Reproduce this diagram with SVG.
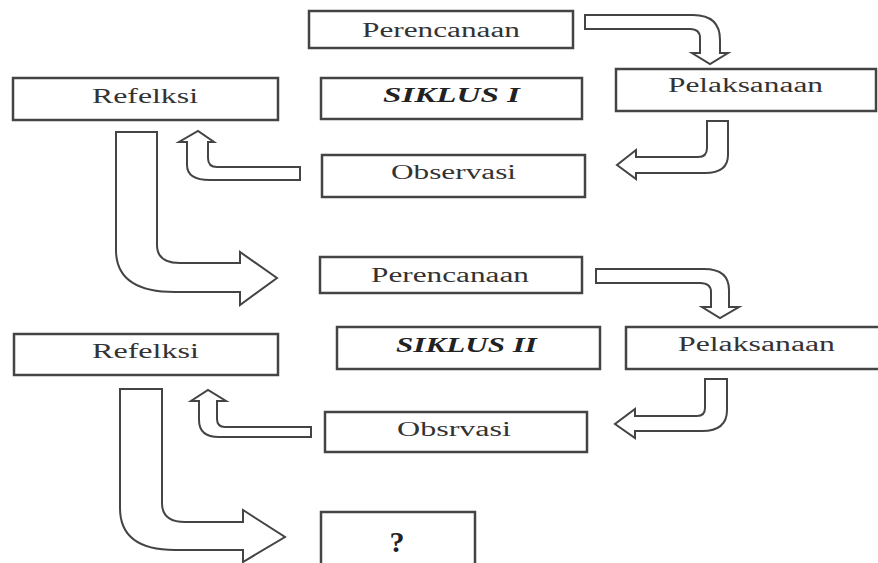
<svg xmlns="http://www.w3.org/2000/svg" width="878" height="563" viewBox="0 0 878 563">
<style>
.box{fill:#fff;stroke:#444;stroke-width:2.5}
.t{font-family:"Liberation Serif","Times New Roman",serif;font-size:20px;fill:#333}
.b{font-weight:bold;font-style:italic;fill:#222}
.q{font-size:30px;font-weight:bold;fill:#222}
.arr{fill:#fff;stroke:#444;stroke-width:2;stroke-linejoin:miter}
</style>
<rect width="878" height="563" fill="#fff"/>
<g id="perencanaan1"><rect class="box" x="309" y="11" width="264" height="37"/><text class="t" x="362" y="37" textLength="158" lengthAdjust="spacingAndGlyphs">Perencanaan</text></g>
<g id="siklus1"><rect class="box" x="321" y="78" width="261" height="41"/><text class="t b" x="383" y="102" textLength="137" lengthAdjust="spacingAndGlyphs">SIKLUS I</text></g>
<g id="pelaksanaan1"><rect class="box" x="616" y="69" width="260" height="42"/><text class="t" x="668" y="92" textLength="155" lengthAdjust="spacingAndGlyphs">Pelaksanaan</text></g>
<g id="refelksi1"><rect class="box" x="13" y="78" width="265" height="42"/><text class="t" x="92" y="103" textLength="106" lengthAdjust="spacingAndGlyphs">Refelksi</text></g>
<g id="observasi1"><rect class="box" x="322" y="155" width="263" height="42"/><text class="t" x="391" y="179" textLength="125" lengthAdjust="spacingAndGlyphs">Observasi</text></g>
<g id="perencanaan2"><rect class="box" x="320" y="257" width="262" height="36"/><text class="t" x="371" y="282" textLength="158" lengthAdjust="spacingAndGlyphs">Perencanaan</text></g>
<g id="siklus2"><rect class="box" x="337" y="327" width="263" height="42"/><text class="t b" x="396" y="352" textLength="141" lengthAdjust="spacingAndGlyphs">SIKLUS II</text></g>
<g id="pelaksanaan2"><rect class="box" x="626" y="327" width="264" height="42"/><text class="t" x="678" y="351" textLength="157" lengthAdjust="spacingAndGlyphs">Pelaksanaan</text></g>
<g id="refelksi2"><rect class="box" x="14" y="334" width="264" height="41"/><text class="t" x="92" y="358" textLength="107" lengthAdjust="spacingAndGlyphs">Refelksi</text></g>
<g id="obsrvasi2"><rect class="box" x="325" y="412" width="262" height="40"/><text class="t" x="397" y="436" textLength="114" lengthAdjust="spacingAndGlyphs">Obsrvasi</text></g>
<g id="next"><rect class="box" x="321" y="512" width="154" height="60"/><text class="t q" x="397" y="552" text-anchor="middle">?</text></g>
<g id="connectors">
<path class="arr" d="M585,15 L693,15 Q720,15 720,40 L720,53 L728,53 L710,64 L692,53 L700,53 L700,38 Q700,29 690,29 L585,29 Z"/>
<path class="arr" d="M707,121 L728,121 L728,155 Q728,173 705,173 L636,173 L636,179 L617,165 L636,150 L636,157 L698,157 Q707,157 707,148 Z"/>
<path class="arr" d="M300,167 L217,167 Q208,167 208,158 L208,142 L214,142 L198,131 L179,142 L187,142 L187,165 Q187,180 210,180 L300,180 Z"/>
<path class="arr" d="M116,132 L157,132 L157,245 Q157,263 180,263 L240,263 L240,252 L277,278 L240,305 L240,292 L175,292 Q116,292 116,250 Z"/>
<path class="arr" d="M596,269 L704,269 Q729,269 729,290 L729,307 L739,307 L720,318 L702,307 L711,307 L711,292 Q711,283 700,283 L596,283 Z"/>
<path class="arr" d="M705,379 L727,379 L727,410 Q727,431 702,431 L635,431 L635,438 L615,424 L635,409 L635,416 L697,416 Q705,416 705,408 Z"/>
<path class="arr" d="M311,427 L225,427 Q217,427 217,419 L217,401 L226,401 L208,390 L191,401 L199,401 L199,420 Q199,437 219,437 L311,437 Z"/>
<path class="arr" d="M120,389 L162,389 L162,503 Q162,522 185,522 L243,522 L243,510 L285,537 L243,562 L243,550 L175,550 Q120,550 120,508 Z"/>
</g>
</svg>
